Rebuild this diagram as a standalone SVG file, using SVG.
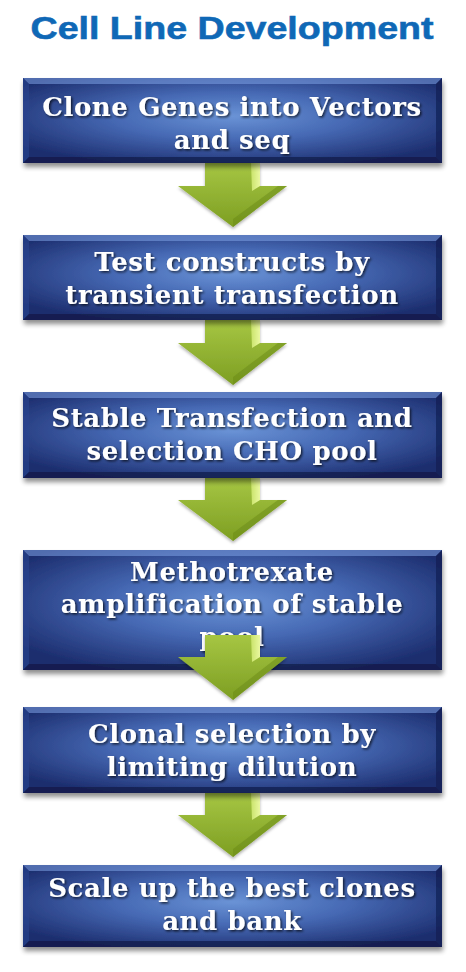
<svg xmlns="http://www.w3.org/2000/svg" width="466" height="972" viewBox="0 0 466 972">
<defs>
<radialGradient id="boxg" cx="0.5" cy="0.45" r="0.62">
<stop offset="0" stop-color="#6a93d6"/>
<stop offset="0.45" stop-color="#4669b4"/>
<stop offset="1" stop-color="#1c2d6e"/>
</radialGradient>
<linearGradient id="arrg" x1="0" y1="0" x2="0" y2="1">
<stop offset="0" stop-color="#a6c643"/>
<stop offset="1" stop-color="#7d9e22"/>
</linearGradient>
<linearGradient id="shine" x1="0" y1="0" x2="1" y2="0">
<stop offset="0" stop-color="#c9e36a"/>
<stop offset="1" stop-color="#eaf8a0"/>
</linearGradient>
<filter id="bshadow" x="-10%" y="-10%" width="120%" height="140%">
<feGaussianBlur in="SourceAlpha" stdDeviation="2.5"/>
<feOffset dx="1" dy="4"/>
<feComponentTransfer><feFuncA type="linear" slope="0.45"/></feComponentTransfer>
<feMerge><feMergeNode/><feMergeNode in="SourceGraphic"/></feMerge>
</filter>
<filter id="tshadow" x="-5%" y="-20%" width="110%" height="140%">
<feDropShadow dx="1.5" dy="1.5" stdDeviation="0.8" flood-color="#000" flood-opacity="0.7"/>
</filter>
<filter id="ashadow" x="-10%" y="-10%" width="120%" height="130%">
<feDropShadow dx="0" dy="2" stdDeviation="1.5" flood-color="#000" flood-opacity="0.3"/>
</filter>
</defs>
<style>
.title{font-family:"Liberation Sans",Arial,sans-serif;font-weight:bold;font-size:32px;fill:#0f68b6;stroke:#0f68b6;stroke-width:0.6px;}
.lbl{font-family:"DejaVu Serif","Liberation Serif",serif;font-weight:bold;font-size:26px;letter-spacing:0.6px;fill:#ffffff;text-anchor:middle;filter:url(#tshadow);}
.box{fill:url(#boxg);}
.bevt{fill:#7ea3e6;opacity:0.55;}
.bevl{fill:#2a4590;opacity:0.6;}
.bevr{fill:#0e1a4c;opacity:0.6;}
.bevb{fill:#0b153e;opacity:0.6;}
.arr{fill:url(#arrg);}
.ahl{fill:url(#shine);}
.adk{fill:#6a8a18;opacity:0.5;}
</style>
<rect width="466" height="972" fill="#ffffff"/>
<text class="title" x="232" y="39" text-anchor="middle" textLength="403" lengthAdjust="spacingAndGlyphs">Cell Line Development</text>

<g id="connectors">
<g id="arrow1" filter="url(#ashadow)">
<path class="arr" d="M205,163 H260 V186 H287 L233,227 L178,186 H205 Z"/>
<path class="ahl" d="M251,163 H260 V186 L252,191 Z"/>
<path class="adk" d="M233,227 L287,186 L278,186 L233,219 Z"/>
</g>
<g id="arrow2" filter="url(#ashadow)">
<path class="arr" d="M205,320 H260 V343 H287 L233,385 L178,343 H205 Z"/>
<path class="ahl" d="M251,320 H260 V343 L252,348 Z"/>
<path class="adk" d="M233,385 L287,343 L278,343 L233,377 Z"/>
</g>
<g id="arrow3" filter="url(#ashadow)">
<path class="arr" d="M205,478 H260 V500 H287 L233,541 L178,500 H205 Z"/>
<path class="ahl" d="M251,478 H260 V500 L252,505 Z"/>
<path class="adk" d="M233,541 L287,500 L278,500 L233,533 Z"/>
</g>
<g id="arrow5" filter="url(#ashadow)">
<path class="arr" d="M205,793 H260 V815 H287 L233,857 L178,815 H205 Z"/>
<path class="ahl" d="M251,793 H260 V815 L252,820 Z"/>
<path class="adk" d="M233,857 L287,815 L278,815 L233,849 Z"/>
</g>
</g>

<g id="node1" filter="url(#bshadow)">
<rect class="box" x="23" y="78" width="419" height="85"/>
<polygon class="bevt" points="23,78 442,78 436,84 29,84"/>
<polygon class="bevl" points="23,78 29,84 29,157 23,163"/>
<polygon class="bevr" points="442,78 442,163 436,157 436,84"/>
<polygon class="bevb" points="23,163 29,157 436,157 442,163"/>
</g>
<text class="lbl" x="232" y="116">Clone Genes into Vectors</text>
<text class="lbl" x="232" y="149">and seq</text>

<g id="node2" filter="url(#bshadow)">
<rect class="box" x="23" y="235" width="419" height="85"/>
<polygon class="bevt" points="23,235 442,235 436,241 29,241"/>
<polygon class="bevl" points="23,235 29,241 29,314 23,320"/>
<polygon class="bevr" points="442,235 442,320 436,314 436,241"/>
<polygon class="bevb" points="23,320 29,314 436,314 442,320"/>
</g>
<text class="lbl" x="232" y="271">Test constructs by</text>
<text class="lbl" x="232" y="304">transient transfection</text>

<g id="node3" filter="url(#bshadow)">
<rect class="box" x="23" y="392" width="419" height="86"/>
<polygon class="bevt" points="23,392 442,392 436,398 29,398"/>
<polygon class="bevl" points="23,392 29,398 29,472 23,478"/>
<polygon class="bevr" points="442,392 442,478 436,472 436,398"/>
<polygon class="bevb" points="23,478 29,472 436,472 442,478"/>
</g>
<text class="lbl" x="232" y="427">Stable Transfection and</text>
<text class="lbl" x="232" y="460">selection CHO pool</text>

<g id="node4" filter="url(#bshadow)">
<rect class="box" x="23" y="550" width="419" height="120"/>
<polygon class="bevt" points="23,550 442,550 436,556 29,556"/>
<polygon class="bevl" points="23,550 29,556 29,664 23,670"/>
<polygon class="bevr" points="442,550 442,670 436,664 436,556"/>
<polygon class="bevb" points="23,670 29,664 436,664 442,670"/>
</g>
<text class="lbl" x="232" y="581">Methotrexate</text>
<text class="lbl" x="232" y="613">amplification of stable</text>
<text class="lbl" x="232" y="646">pool</text>

<g id="arrow4" filter="url(#ashadow)">
<path class="arr" d="M205,635 H260 V657 H287 L233,700 L178,657 H205 Z"/>
<path class="ahl" d="M251,635 H260 V657 L252,662 Z"/>
<path class="adk" d="M233,700 L287,657 L278,657 L233,692 Z"/>
</g>

<g id="node5" filter="url(#bshadow)">
<rect class="box" x="23" y="707" width="419" height="86"/>
<polygon class="bevt" points="23,707 442,707 436,713 29,713"/>
<polygon class="bevl" points="23,707 29,713 29,787 23,793"/>
<polygon class="bevr" points="442,707 442,793 436,787 436,713"/>
<polygon class="bevb" points="23,793 29,787 436,787 442,793"/>
</g>
<text class="lbl" x="232" y="743">Clonal selection by</text>
<text class="lbl" x="232" y="776">limiting dilution</text>

<g id="node6" filter="url(#bshadow)">
<rect class="box" x="23" y="865" width="419" height="82"/>
<polygon class="bevt" points="23,865 442,865 436,871 29,871"/>
<polygon class="bevl" points="23,865 29,871 29,941 23,947"/>
<polygon class="bevr" points="442,865 442,947 436,941 436,871"/>
<polygon class="bevb" points="23,947 29,941 436,941 442,947"/>
</g>
<text class="lbl" x="232" y="897">Scale up the best clones</text>
<text class="lbl" x="232" y="930">and bank</text>
</svg>
